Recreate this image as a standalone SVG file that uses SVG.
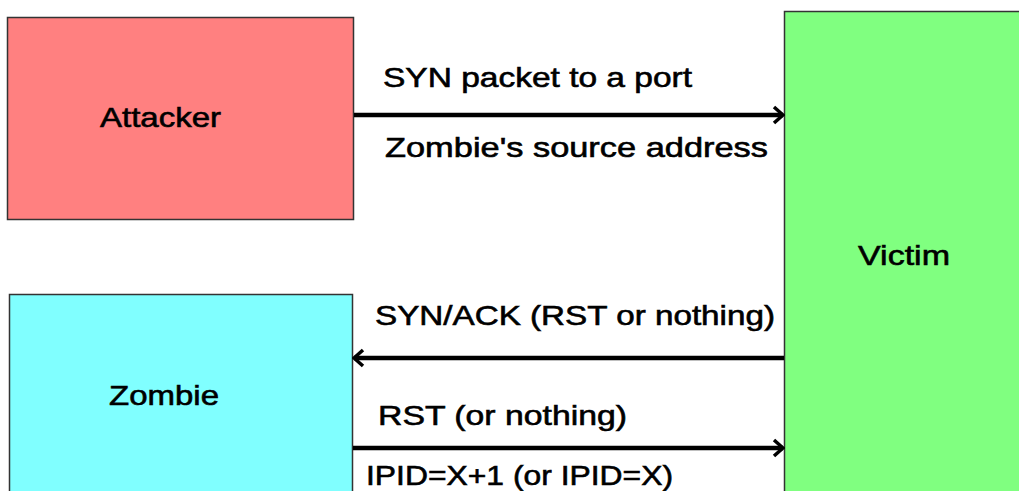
<svg xmlns="http://www.w3.org/2000/svg" width="1019" height="491" viewBox="0 0 1019 491">
<style>
.box{stroke:#333;stroke-width:1.5}
.lbl{font-family:"Liberation Sans",Arial,sans-serif;font-size:28px;fill:#000;stroke:#000;stroke-width:0.6}
.conn{stroke:#000;stroke-width:4.5;fill:none}
</style>
<defs>
<marker id="arr" viewBox="-13 -10 15 20" refX="0" refY="0" markerWidth="15" markerHeight="20" markerUnits="userSpaceOnUse" orient="auto">
<path d="M-9,-8 L0,0 L-9,8" fill="none" stroke="#000" stroke-width="3.5"/>
</marker>
</defs>
<rect width="1019" height="491" fill="#fff"/>
<g id="attacker">
<rect class="box" x="7.5" y="17.5" width="346" height="202" fill="#FF8080"/>
<text class="lbl" x="100" y="127" textLength="121" lengthAdjust="spacingAndGlyphs">Attacker</text>
</g>
<g id="zombie">
<rect class="box" x="9.5" y="294.5" width="343" height="210" fill="#80FFFF"/>
<text class="lbl" x="109" y="405" textLength="110" lengthAdjust="spacingAndGlyphs">Zombie</text>
</g>
<g id="victim">
<rect class="box" x="784.5" y="11.5" width="250" height="490" fill="#80FF80"/>
<text class="lbl" x="858" y="265" textLength="92" lengthAdjust="spacingAndGlyphs">Victim</text>
</g>
<g id="connectors">
<line class="conn" x1="354" y1="115" x2="783" y2="115" marker-end="url(#arr)"/>
<line class="conn" x1="784" y1="358" x2="354" y2="358" marker-end="url(#arr)"/>
<line class="conn" x1="353" y1="448" x2="783" y2="448" marker-end="url(#arr)"/>
<text class="lbl" x="383" y="87" textLength="309" lengthAdjust="spacingAndGlyphs">SYN packet to a port</text>
<text class="lbl" x="385" y="157" textLength="383" lengthAdjust="spacingAndGlyphs">Zombie's source address</text>
<text class="lbl" x="375" y="325" textLength="400" lengthAdjust="spacingAndGlyphs">SYN/ACK (RST or nothing)</text>
<text class="lbl" x="378" y="425" textLength="249" lengthAdjust="spacingAndGlyphs">RST (or nothing)</text>
<text class="lbl" x="366" y="485" textLength="307" lengthAdjust="spacingAndGlyphs">IPID=X+1 (or IPID=X)</text>
</g>
</svg>
